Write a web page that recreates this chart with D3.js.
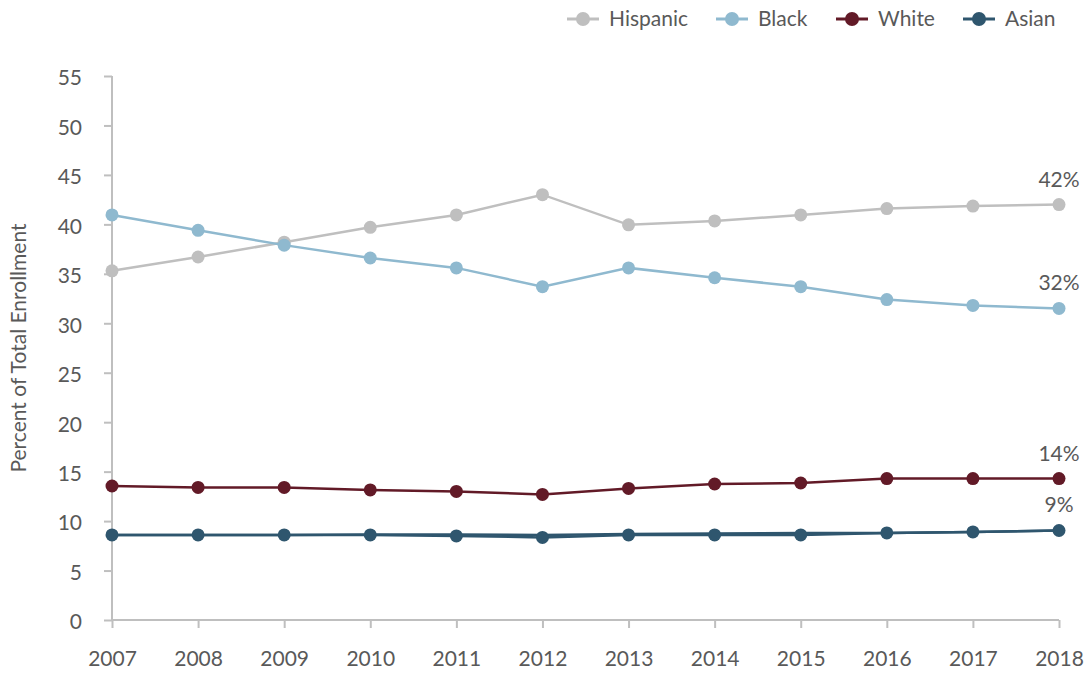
<!DOCTYPE html>
<html>
<head>
<meta charset="utf-8">
<script src="https://cdn.jsdelivr.net/npm/d3@7"></script>
<style>
  body { margin: 0; background: #fff; }
  text { font-family: Lato, "Open Sans", sans-serif; fill: #595959; }
</style>
</head>
<body>
<div id="chart"></div>
<script>
// data
const years = [2007, 2008, 2009, 2010, 2011, 2012, 2013, 2014, 2015, 2016, 2017, 2018];
const hispanic = [35.3, 36.7, 38.2, 39.7, 40.95, 43.0, 39.95, 40.35, 40.95, 41.6, 41.85, 42.0];
const black = [40.95, 39.4, 37.9, 36.6, 35.6, 33.7, 35.6, 34.6, 33.7, 32.4, 31.8, 31.5];
const white = [13.55, 13.4, 13.4, 13.15, 13.0, 12.7, 13.3, 13.75, 13.85, 14.3, 14.3, 14.3];
const asian = [8.6, 8.6, 8.6, 8.6, 8.5, 8.35, 8.6, 8.6, 8.6, 8.8, 8.9, 9.05];
const asianAlt = [8.6, 8.6, 8.6, 8.65, 8.65, 8.6, 8.7, 8.75, 8.8, 8.8, 8.9, 9.05];
const yTicks = [0, 5, 10, 15, 20, 25, 30, 35, 40, 45, 50, 55];

const series = [
  {name: "Hispanic", values: hispanic, color: "#bfbfbf", label: "42%"},
  {name: "Black", values: black, color: "#8fb9cf", label: "32%"},
  {name: "White", values: white, color: "#621a27", label: "14%"},
  {name: "Asian", values: asian, color: "#2f566e", label: "9%"}
];

const width = 1086, height = 673;
const margin = {top: 76, right: 27, bottom: 53, left: 112};
const fontSize = "21px";

const svg = d3.select("#chart").append("svg")
  .attr("width", width)
  .attr("height", height);

const x = d3.scaleLinear()
  .domain([2007, 2018])
  .range([margin.left, width - margin.right]);

const y = d3.scaleLinear()
  .domain([0, 55])
  .range([height - margin.bottom, margin.top]);

// axes
const xAxis = svg.append("g")
  .attr("transform", `translate(0,${y(0)})`)
  .call(d3.axisBottom(x).tickValues(years).tickFormat(d3.format("d")).tickSize(8).tickPadding(22));

const yAxis = svg.append("g")
  .attr("transform", `translate(${margin.left},0)`)
  .call(d3.axisLeft(y).tickValues(yTicks).tickSize(8).tickPadding(22));

[xAxis, yAxis].forEach(g => {
  g.selectAll("path, line").attr("stroke", "#bfbfbf").attr("stroke-width", 2);
  g.select(".domain").attr("d", g === xAxis
    ? `M${x(2007)},0H${x(2018)}`
    : `M0,${y(0)}V${y(55)}`);
  g.selectAll("text").style("font-size", fontSize).attr("fill", "#595959")
    .style("font-family", "Lato, sans-serif");
});
yAxis.selectAll(".tick text").attr("dy", "0.42em");
xAxis.selectAll(".tick text").attr("dy", "0.75em");

svg.append("text")
  .attr("transform", `translate(26,${(y(0) + y(55)) / 2}) rotate(-90)`)
  .attr("text-anchor", "middle")
  .style("font-size", "21px")
  .text("Percent of Total Enrollment");

const line = d3.line()
  .x((d, i) => x(years[i]))
  .y(d => y(d));

// second asian trace hidden behind the main one
svg.append("path")
  .datum(asianAlt)
  .attr("fill", "none")
  .attr("stroke", "#2f566e")
  .attr("stroke-width", 2.5)
  .attr("d", line);

series.forEach(s => {
  const g = svg.append("g");
  g.append("path")
    .datum(s.values)
    .attr("fill", "none")
    .attr("stroke", s.color)
    .attr("stroke-width", 2.5)
    .attr("d", line);
  g.selectAll("circle")
    .data(s.values)
    .enter()
    .append("circle")
    .attr("cx", (d, i) => x(years[i]))
    .attr("cy", d => y(d))
    .attr("r", 6.5)
    .attr("fill", s.color);
  g.append("text")
    .attr("x", x(2018))
    .attr("y", y(s.values[s.values.length - 1]) - 18)
    .attr("text-anchor", "middle")
    .style("font-size", fontSize)
    .text(s.label);
});

// legend
const legendX = [583, 732, 852, 979];
const legend = svg.append("g");
series.forEach((s, i) => {
  const lg = legend.append("g").attr("transform", `translate(${legendX[i]},19)`);
  lg.append("line")
    .attr("x1", -16).attr("x2", 16)
    .attr("stroke", s.color).attr("stroke-width", 3);
  lg.append("circle").attr("r", 7).attr("fill", s.color);
  lg.append("text")
    .attr("x", 26)
    .attr("dy", "0.35em")
    .style("font-size", fontSize)
    .text(s.name);
});
</script>
</body>
</html>
